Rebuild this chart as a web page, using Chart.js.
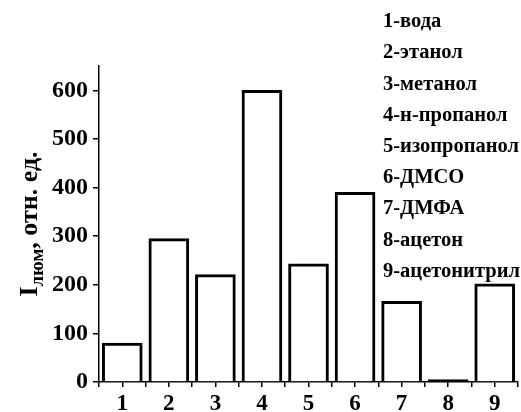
<!DOCTYPE html>
<html>
<head>
<meta charset="utf-8">
<script src="https://cdn.jsdelivr.net/npm/chart.js@4.4.0/dist/chart.umd.min.js"></script>
<style>
    html, body { margin: 0; padding: 0; background: #fff; }
</style>
</head>
<body>
<canvas id="chart" width="521" height="412"></canvas>
<script>
const categories = [1, 2, 3, 4, 5, 6, 7, 8, 9];
const intensities = [80, 295, 221, 600, 243, 390, 166, 5, 202];
const solventNames = ['1-вода', '2-этанол', '3-метанол', '4-н-пропанол', '5-изопропанол',
    '6-ДМСО', '7-ДМФА', '8-ацетон', '9-ацетонитрил'];
const yTickLabels = [0, 100, 200, 300, 400, 500, 600];

const serif = "'Liberation Serif', 'Times New Roman', serif";

// y title with subscript + solvent list on the right
const annotations = {
    id: 'annotations',
    afterDraw(chart) {
        const ctx = chart.ctx;
        const area = chart.chartArea;

        ctx.save();
        ctx.fillStyle = '#000';
        ctx.textBaseline = 'middle';
        ctx.textAlign = 'left';
        ctx.font = 'bold 20.5px ' + serif;
        solventNames.forEach((name, i) => {
            ctx.fillText(name, 383, 22 + i * 31.2);
        });
        ctx.restore();

        const big = 'bold 26px ' + serif;
        const small = 'bold 19px ' + serif;
        ctx.save();
        ctx.fillStyle = '#000';
        ctx.textBaseline = 'alphabetic';
        ctx.textAlign = 'left';
        ctx.font = big;
        const wI = ctx.measureText('I').width;
        const wRest = ctx.measureText(', отн. ед.').width;
        ctx.font = small;
        const wSub = ctx.measureText('люм').width;
        const total = wI + wSub + wRest;
        ctx.translate(37, (area.top + area.bottom) / 2);
        ctx.rotate(-Math.PI / 2);
        let x = -total / 2;
        ctx.font = big;
        ctx.fillText('I', x, 0);
        x += wI;
        ctx.font = small;
        ctx.fillText('люм', x, 6);
        x += wSub;
        ctx.font = big;
        ctx.fillText(', отн. ед.', x, 0);
        ctx.restore();
    }
};

new Chart(document.getElementById('chart'), {
    type: 'bar',
    data: {
        datasets: [{
            data: categories.map((c, i) => ({ x: c, y: intensities[i] })),
            // a near-zero bar collapses into its own outline
            backgroundColor: ctx => (ctx.raw && ctx.raw.y < 10) ? '#000' : '#fff',
            borderColor: '#000',
            borderWidth: 3,
            borderSkipped: 'bottom',
            barThickness: 40
        }]
    },
    options: {
        responsive: false,
        animation: false,
        layout: { padding: { top: 66, right: 2, left: 0, bottom: 0 } },
        plugins: {
            legend: { display: false },
            tooltip: { enabled: false }
        },
        scales: {
            x: {
                type: 'linear',
                min: 0.5,
                max: 9.5,
                offset: false,
                grid: {
                    offset: false,
                    drawOnChartArea: false,
                    drawTicks: true,
                    tickLength: 5,
                    color: '#000',
                    lineWidth: 1.5
                },
                border: { display: true, color: '#000', width: 1.5 },
                ticks: {
                    stepSize: 0.5,
                    autoSkip: false,
                    maxRotation: 0,
                    padding: 3,
                    color: '#000',
                    font: { family: serif, size: 23, weight: 'bold' },
                    callback: v => categories.includes(v) ? String(v) : ''
                },
                afterFit: scale => { scale.height = 30; }
            },
            y: {
                min: 0,
                max: 650,
                grid: {
                    drawOnChartArea: false,
                    drawTicks: true,
                    tickLength: 6,
                    color: '#000',
                    lineWidth: 1.5
                },
                border: { display: true, color: '#000', width: 1.5 },
                ticks: {
                    stepSize: 50,
                    padding: 5,
                    color: '#000',
                    font: { family: serif, size: 24, weight: 'bold' },
                    callback: v => yTickLabels.includes(v) ? String(v) : ''
                },
                afterFit: scale => { scale.width = 99; }
            }
        }
    },
    plugins: [annotations]
});
</script>
</body>
</html>
